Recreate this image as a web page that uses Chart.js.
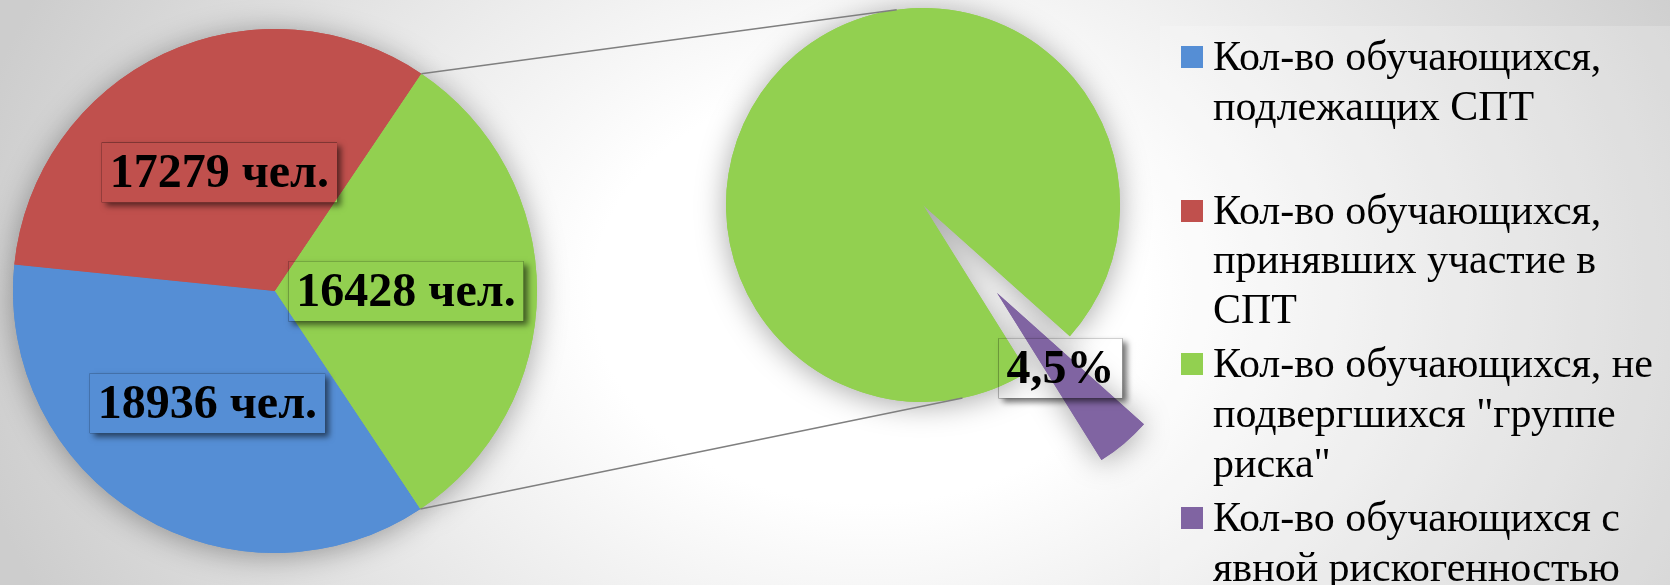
<!DOCTYPE html>
<html lang="ru">
<head>
<meta charset="utf-8">
<title>СПТ — вторичная диаграмма</title>
<script src="https://cdn.jsdelivr.net/npm/chart.js@4.4.1/dist/chart.umd.min.js"></script>
<style>
    html, body { margin: 0; padding: 0; }
    body {
        width: 1670px; height: 585px; overflow: hidden; position: relative;
        background: radial-gradient(ellipse 55% 120% at 52% 50%, #ffffff 30%, #cdcdcd 100%);
        font-family: "Liberation Serif", "Times New Roman", serif;
    }
    canvas { position: absolute; left: 0; top: 0; }
    #legendPanel {
        position: absolute; left: 1160px; top: 26px; right: 0; bottom: 0;
        background: rgba(255, 255, 255, 0.2);
    }
    #legend { position: absolute; left: 1181px; top: 0; }
    .item { position: absolute; left: 0; white-space: nowrap; font-size: 42px; line-height: 49.7px; color: #000; }
    .item .sq { position: absolute; left: 0; top: 14px; width: 22px; height: 22px; }
    .item .txt { position: absolute; left: 32px; top: 0; }
</style>
</head>
<body>
<div id="legendPanel"></div>
<canvas id="leftPie" width="1670" height="585"></canvas>
<canvas id="rightPie" width="1670" height="585"></canvas>
<div id="legend"></div>

<script>
// подписи категорий (по строкам, как в легенде)
const legendLabels = [
    ['Кол-во обучающихся,', 'подлежащих СПТ'],
    ['Кол-во обучающихся,', 'принявших участие в', 'СПТ'],
    ['Кол-во обучающихся, не', 'подвергшихся "группе', 'риска"'],
    ['Кол-во обучающихся с', 'явной рискогенностью']
];
// основная диаграмма (чел.)
const leftValues = [18936, 17279, 16428];
// вторичная диаграмма (%)
const rightValues = [95.5, 4.5];

// оформление
const colors = ['#558ed5', '#c0504d', '#92d050', '#8064a2'];
const W = 1670, H = 585;
const leftCenter = { x: 275, y: 291 }, leftR = 262;
const rightCenter = { x: 923, y: 205 }, rightR = 197;
const rightExplode = [0, 115];
const labelFont = 'bold 48px "Liberation Serif", "Times New Roman", serif';

// отступы, чтобы центр области графика попал в нужную точку
function padFor(c) {
    const dx = 2 * c.x - W, dy = 2 * c.y - H;
    return { left: Math.max(dx, 0), right: Math.max(-dx, 0), top: Math.max(dy, 0), bottom: Math.max(-dy, 0) };
}

// тень и вынос сектора
function makeShadowPlugin(explode) {
    return {
        id: 'softShadow',
        beforeDatasetDraw(chart, args) {
            const ctx = chart.ctx;
            const arcs = args.meta.data;
            const pass = (withShadow) => arcs.forEach((arc, i) => {
                ctx.save();
                const off = explode[i] || 0;
                if (off) {
                    const mid = (arc.startAngle + arc.endAngle) / 2;
                    ctx.translate(Math.cos(mid) * off, Math.sin(mid) * off);
                }
                if (withShadow) {
                    ctx.shadowColor = 'rgba(0,0,0,0.35)';
                    ctx.shadowBlur = 30;
                    ctx.shadowOffsetY = 3;
                }
                arc.draw(ctx);
                ctx.restore();
            });
            pass(true);
            pass(false);
            return false;
        }
    };
}

// подписи данных с тенью рамки
function makeLabelPlugin(format, explode) {
    return {
        id: 'sliceLabels',
        afterDatasetsDraw(chart) {
            const ctx = chart.ctx;
            const meta = chart.getDatasetMeta(0);
            const values = chart.data.datasets[0].data;
            ctx.save();
            ctx.font = labelFont;
            ctx.textAlign = 'center';
            ctx.textBaseline = 'middle';
            meta.data.forEach((arc, i) => {
                const text = format(values[i], i, values);
                if (!text) return;
                const mid = (arc.startAngle + arc.endAngle) / 2;
                const d = (explode[i] || 0) + arc.outerRadius * 0.5;
                const x = arc.x + Math.cos(mid) * d;
                const y = arc.y + Math.sin(mid) * d;
                const w = ctx.measureText(text).width + 16, h = 60;
                const bx = x - w / 2, by = y - h / 2;
                ctx.save();
                ctx.beginPath();
                ctx.rect(0, 0, chart.width, chart.height);
                ctx.rect(bx, by, w, h);
                ctx.clip('evenodd');
                ctx.shadowColor = 'rgba(0,0,0,0.55)';
                ctx.shadowBlur = 6;
                ctx.shadowOffsetX = 4;
                ctx.shadowOffsetY = 4;
                ctx.fillStyle = '#000';
                ctx.fillRect(bx, by, w, h);
                ctx.restore();
                ctx.fillStyle = '#000';
                ctx.fillText(text, x, y + 2);
            });
            ctx.restore();
        }
    };
}

const baseOptions = {
    responsive: false,
    animation: false,
    borderWidth: 0,
    plugins: { legend: { display: false }, tooltip: { enabled: false } }
};

const leftChart = new Chart(document.getElementById('leftPie'), {
    type: 'pie',
    data: {
        labels: legendLabels.slice(0, 3).map(l => l.join(' ')),
        datasets: [{ data: leftValues, backgroundColor: colors.slice(0, 3), borderWidth: 0 }]
    },
    options: Object.assign({}, baseOptions, {
        radius: leftR,
        rotation: 146.3,
        layout: { padding: padFor(leftCenter) }
    }),
    plugins: [makeShadowPlugin([]), makeLabelPlugin(v => v + ' чел.', [])]
});

// соединительные линии (касательные ко вторичной диаграмме)
const connectorPlugin = {
    id: 'connectors',
    afterDatasetsDraw(chart) {
        const other = leftChart.getDatasetMeta(0).data[2];
        const circle = chart.getDatasetMeta(0).data[0];
        const C = { x: circle.x, y: circle.y }, R = circle.outerRadius;
        const pts = [other.startAngle, other.endAngle].map(a => ({
            x: other.x + Math.cos(a) * other.outerRadius,
            y: other.y + Math.sin(a) * other.outerRadius
        })).sort((a, b) => a.y - b.y);
        const ctx = chart.ctx;
        ctx.save();
        ctx.strokeStyle = '#7f7f7f';
        ctx.lineWidth = 1.5;
        pts.forEach((P, k) => {
            const th = Math.atan2(P.y - C.y, P.x - C.x);
            const d = Math.hypot(P.x - C.x, P.y - C.y);
            const phi = Math.acos(R / d);
            const cands = [th + phi, th - phi].map(a => ({ x: C.x + Math.cos(a) * R, y: C.y + Math.sin(a) * R }))
                .sort((a, b) => a.y - b.y);
            const T = k === 0 ? cands[0] : cands[1];
            ctx.beginPath();
            ctx.moveTo(P.x, P.y);
            ctx.lineTo(T.x, T.y);
            ctx.stroke();
        });
        ctx.restore();
    }
};

const rightChart = new Chart(document.getElementById('rightPie'), {
    type: 'pie',
    data: {
        labels: legendLabels.slice(2, 4).map(l => l.join(' ')),
        datasets: [{ data: rightValues, backgroundColor: colors.slice(2, 4), borderWidth: 0 }]
    },
    options: Object.assign({}, baseOptions, {
        radius: rightR,
        rotation: 148,
        layout: { padding: padFor(rightCenter) }
    }),
    plugins: [
        makeShadowPlugin(rightExplode),
        connectorPlugin,
        makeLabelPlugin((v, i, all) => {
            if (i === 0) return '';
            const total = all.reduce((s, x) => s + x, 0);
            return (v / total * 100).toFixed(1).replace('.', ',') + '%';
        }, rightExplode)
    ]
});

// легенда
const legendEl = document.getElementById('legend');
legendLabels.forEach((lines, i) => {
    const item = document.createElement('div');
    item.className = 'item';
    item.style.top = (32 + i * 153.7) + 'px';
    const sq = document.createElement('div');
    sq.className = 'sq';
    sq.style.background = colors[i];
    const txt = document.createElement('div');
    txt.className = 'txt';
    txt.innerHTML = lines.join('<br>');
    item.appendChild(sq);
    item.appendChild(txt);
    legendEl.appendChild(item);
});
</script>
</body>
</html>
